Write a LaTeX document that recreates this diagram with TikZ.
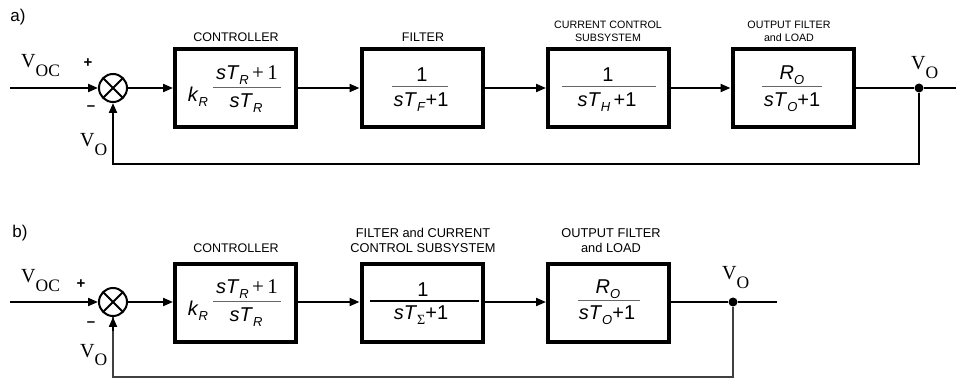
\documentclass[tikz,border=0pt]{standalone}
\usepackage{fontspec}
\setmainfont{Liberation Sans}
\newfontfamily\serifV{Liberation Serif}
\usetikzlibrary{arrows.meta}
\newcommand{\Vsub}[1]{{\serifV\fontsize{20}{20}\selectfont V\raisebox{-9pt}{\fontsize{17.5}{17.5}\selectfont #1}}}
\newcommand{\subsc}[1]{\raisebox{-4.5pt}{\fontsize{13}{13}\selectfont\textit{#1}}}
\newcommand{\sTx}[1]{\textit{sT}\subsc{#1}}
\newcommand{\ctrlnum}{\sTx{R}\,{\serifV\fontsize{21}{21}\selectfont +\,1}}
\begin{document}
\begin{tikzpicture}[x=1pt,y=-1pt,
  >={Triangle[length=10pt,width=8pt]},
  blk/.style={draw, line width=4pt, minimum width=121pt, minimum height=78pt, inner sep=0pt},
  sumc/.style={circle, draw, line width=2pt, minimum size=28pt, inner sep=0pt,
    path picture={\draw[line width=1.8pt] (path picture bounding box.north west) -- (path picture bounding box.south east)
      (path picture bounding box.north east) -- (path picture bounding box.south west);}},
  con/.style={line width=2pt},
  fb/.style={line width=1.3pt, black!75},
  lab/.style={font=\fontsize{12.5}{13}\selectfont, align=center, inner sep=0pt},
  laba/.style={font=\fontsize{10.7}{13}\selectfont, align=center, inner sep=0pt},
  labb/.style={font=\fontsize{12.8}{15}\selectfont, align=center, inner sep=0pt},
  mth/.style={font=\fontsize{20}{20}\selectfont, inner sep=0pt},
  bar/.style={line width=1pt, black!60},
  thbar/.style={line width=2pt, black},
  dot/.style={circle, fill, inner sep=0pt, minimum size=9pt},
  sgn/.style={font=\fontsize{15}{15}\selectfont\bfseries, inner sep=0pt},
  tag/.style={font=\fontsize{17}{17}\selectfont, inner sep=0pt}
]
\useasboundingbox (0,0) rectangle (956,379);
% ===================== a) =====================
\node[tag] (ta) at (18,17) {a)};
\coordinate (ina) at (10,88);
\node[sumc] (s1) at (113,88) {};
\node[blk] (c1) at (235.5,88) {};
\node[blk] (f1) at (422,88) {};
\node[blk] (h1) at (608.5,88) {};
\node[blk] (o1) at (793,88) {};
\node[dot] (j1) at (919,88) {};
\coordinate (outa) at (956,88);
\coordinate (fba) at (919,164);
\node[lab] (lc1) at (236,37) {CONTROLLER};
\node[lab] (lf1) at (423,37) {FILTER};
\node[laba] (lh1) at (608,31) {CURRENT CONTROL\\SUBSYSTEM};
\node[laba] (lo1) at (789,31) {OUTPUT FILTER\\and LOAD};
% block contents
\node[mth] (k1) at (198,97) {\textit{k}\subsc{R}};
\node[mth] (c1n) at (247,75) {\ctrlnum};
\draw[bar] (213,88) -- (281,88);
\node[mth] (c1d) at (246,103) {\sTx{R}};
\node[mth] (f1n) at (422,75) {1};
\draw[bar] (392,87) -- (448,87);
\node[mth] (f1d) at (421,102) {\sTx{F}+1};
\node[mth] (h1n) at (608,75) {1};
\draw[bar] (562,87) -- (656,87);
\node[mth] (h1d) at (607,102) {\sTx{H}\,+1};
\node[mth] (o1n) at (792,75) {\textit{R}\subsc{O}};
\draw[bar] (762,87) -- (822,87);
\node[mth] (o1d) at (792,102) {\sTx{O}+1};
% signals
\node[anchor=base west, inner sep=0pt] (v1) at (21,68) {\Vsub{OC}};
\node[anchor=base west, inner sep=0pt] (v2) at (80,147) {\Vsub{O}};
\node[anchor=base west, inner sep=0pt] (v3) at (911,70) {\Vsub{O}};
\node[sgn] (p1) at (88,63) {+};
\node[sgn] (m1) at (91,108) {\textendash};
% connectors
\draw[con,->] (ina) -- (s1.west);
\draw[con,->] (s1.east) -- (c1.west);
\draw[con,->] (c1.east) -- (f1.west);
\draw[con,->] (f1.east) -- (h1.west);
\draw[con,->] (h1.east) -- (o1.west);
\draw[con] (o1.east) -- (j1) -- (outa);
\draw[con,->] (j1) -- (fba) -| (s1.south);
% ===================== b) =====================
\node[tag] (tb) at (20,233) {b)};
\coordinate (inb) at (10,302);
\node[sumc] (s2) at (113,302) {};
\node[blk] (c2) at (235.5,303) {};
\node[blk] (f2) at (422,303) {};
\node[blk] (o2) at (608.5,303) {};
\node[dot] (j2) at (733,302) {};
\coordinate (outb) at (777,302);
\coordinate (fbb) at (733,377);
\node[lab] (lc2) at (236,248) {CONTROLLER};
\node[labb] (lf2) at (423,240.5) {FILTER and CURRENT\\CONTROL SUBSYSTEM};
\node[labb] (lo2) at (611,240.5) {OUTPUT FILTER\\and LOAD};
\node[mth] (k2) at (198,311) {\textit{k}\subsc{R}};
\node[mth] (c2n) at (247,289) {\ctrlnum};
\draw[bar] (213,302) -- (281,302);
\node[mth] (c2d) at (246,317) {\sTx{R}};
\node[mth] (f2n) at (423,290) {1};
\draw[thbar] (370,301) -- (479,301);
\node[mth] (f2d) at (421,315) {\textit{sT}\raisebox{-5pt}{\serifV\fontsize{14}{14}\selectfont Σ}+1};
\node[mth] (o2n) at (608,289) {\textit{R}\subsc{O}};
\draw[bar] (578,301) -- (640,301);
\node[mth] (o2d) at (607,315) {\sTx{O}+1};
\node[anchor=base west, inner sep=0pt] (v4) at (21,283) {\Vsub{OC}};
\node[anchor=base west, inner sep=0pt] (v5) at (80,357) {\Vsub{O}};
\node[anchor=base west, inner sep=0pt] (v6) at (722,280) {\Vsub{O}};
\node[sgn] (p2) at (81,284) {+};
\node[sgn] (m2) at (91,324) {\textendash};
\draw[con,->] (inb) -- (s2.west);
\draw[con,->] (s2.east) -- (s2.east -| c2.west);
\draw[con,->] (c2.east |- s2) -- (f2.west |- s2);
\draw[con,->] (f2.east |- s2) -- (o2.west |- s2);
\draw[con] (o2.east |- s2) -- (j2) -- (outb);
\draw[fb] (j2) -- (fbb) -| (s2.south);
\draw[con,->] ([yshift=-14pt]s2.south) -- (s2.south);
\end{tikzpicture}
\end{document}
